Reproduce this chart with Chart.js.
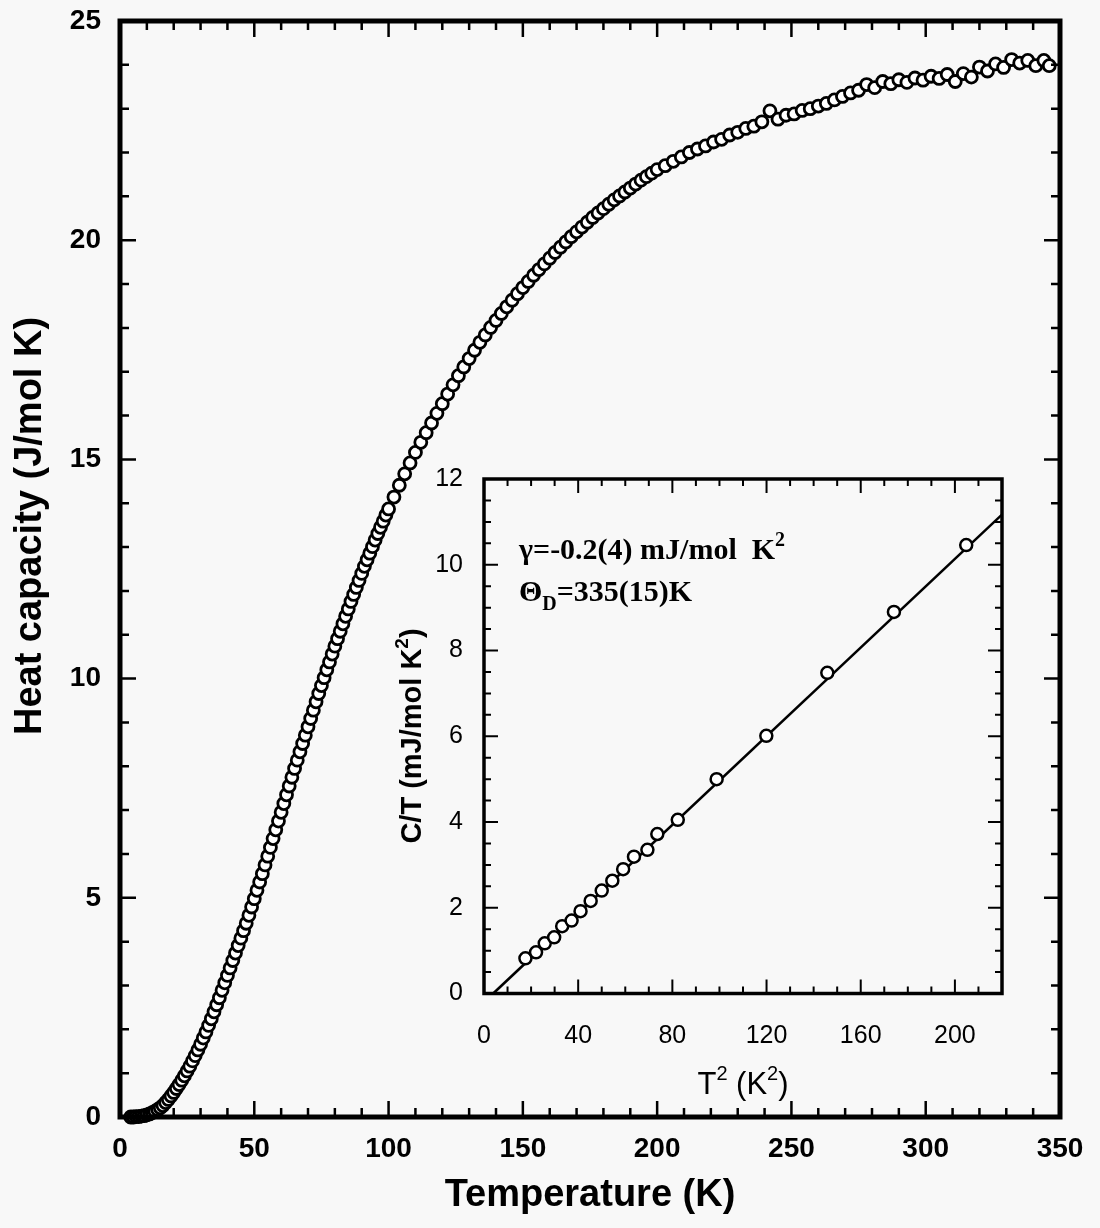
<!DOCTYPE html>
<html>
<head>
<meta charset="utf-8">
<script src="https://cdn.jsdelivr.net/npm/chart.js@4.4.1/dist/chart.umd.min.js"></script>
<style>
  body { margin: 0; background: #f8f8f8; }
  #wrap { position: relative; width: 1100px; height: 1228px; }
  #main { position: absolute; left: 0; top: 0; }
  #inset { position: absolute; left: 380px; top: 440px; }
</style>
</head>
<body>
<div id="wrap">
  <canvas id="main" width="1100" height="1228"></canvas>
  <canvas id="inset" width="660" height="670"></canvas>
</div>
<script>
/* Main plot: heat capacity vs temperature */
const temps = [
  4,5,6,7,8,9,10,11,12,13,14,15,16,17,18,19,20,21,22,23,
  24,25,26,27,28,29,30,31,32,33,34,35,36,37,38,39,40,41,42,43,
  44,45,46,47,48,49,50,51,52,53,54,55,56,57,58,59,60,61,62,63,
  64,65,66,67,68,69,70,71,72,73,74,75,76,77,78,79,80,81,82,83,
  84,85,86,87,88,89,90,91,92,93,94,95,96,97,98,99,100,
  102,104,106,108,110,112,114,116,118,120,122,124,126,128,130,132,134,136,138,140,
  142,144,146,148,150,152,154,156,158,160,162,164,166,168,170,172,174,176,178,180,
  182,184,186,188,190,192,194,196,198,200,
  203,206,209,212,215,218,221,224,227,230,233,236,239,242,245,248,251,254,257,260,
  263,266,269,272,275,278,281,284,287,290,293,296,299,302,305,308,311,314,317,320,
  323,326,329,332,335,338,341,344,346
];
const heatCap = [
  0.00,0.00,0.01,0.01,0.02,0.03,0.05,0.07,0.10,0.13,0.17,0.21,0.26,0.33,0.40,0.48,0.56,0.65,0.74,0.84,
  0.94,1.05,1.16,1.28,1.40,1.53,1.66,1.80,1.94,2.09,2.24,2.40,2.56,2.72,2.89,3.06,3.23,3.40,3.57,3.74,
  3.91,4.08,4.25,4.42,4.60,4.79,4.98,5.17,5.36,5.55,5.75,5.95,6.15,6.35,6.55,6.75,6.95,7.15,7.35,7.55,
  7.75,7.95,8.14,8.33,8.52,8.71,8.90,9.09,9.28,9.47,9.66,9.84,10.02,10.20,10.38,10.56,10.74,10.91,11.08,11.25,
  11.42,11.59,11.76,11.92,12.08,12.24,12.40,12.56,12.71,12.86,13.01,13.16,13.31,13.45,13.59,13.73,13.87,
  14.14,14.41,14.67,14.92,15.16,15.39,15.61,15.83,16.05,16.27,16.49,16.70,16.91,17.11,17.30,17.49,17.67,17.84,18.01,18.17,
  18.33,18.48,18.63,18.78,18.92,19.06,19.20,19.33,19.46,19.59,19.72,19.84,19.96,20.08,20.19,20.30,20.41,20.52,20.62,20.72,
  20.82,20.92,21.01,21.10,21.19,21.28,21.37,21.45,21.53,21.61,
  21.70,21.80,21.90,22.00,22.08,22.15,22.24,22.30,22.40,22.46,22.55,22.60,22.70,22.95,22.76,22.85,22.88,22.96,23.00,23.06,
  23.12,23.20,23.28,23.36,23.42,23.55,23.48,23.62,23.57,23.66,23.60,23.70,23.65,23.74,23.69,23.78,23.62,23.80,23.72,23.95,
  23.86,24.02,23.94,24.12,24.04,24.10,23.98,24.10,23.98
];

/* Inset: C/T vs T^2 and the linear fit */
const tSquared = [17.6,22.1,25.8,29.8,33.2,37.2,41.0,45.3,50.0,54.5,59.1,63.7,69.4,73.6,82.3,98.8,119.9,145.8,174.1,204.8];
const cOverT = [0.82,0.96,1.17,1.31,1.57,1.70,1.92,2.16,2.40,2.63,2.90,3.19,3.35,3.72,4.05,5.00,6.01,7.48,8.90,10.46];
const fitX = [3.9, 220];
const fitY = [0, 11.17];

const SANS = 'Liberation Sans, Arial, sans-serif';
const SERIF = 'Liberation Serif, Times New Roman, serif';

/* Frame with inward ticks on all four sides */
const framePlugin = {
    id: 'frame',
    afterDraw(chart, args, o) {
        const {ctx, chartArea: a, scales} = chart;
        const xs = scales.x, ys = scales.y;
        ctx.save();
        ctx.strokeStyle = '#000';
        ctx.lineWidth = o.tickWidth;
        ctx.beginPath();
        for (let v = xs.min; v <= xs.max + 1e-6; v += o.xMinor) {
            const px = xs.getPixelForValue(v);
            const len = Math.abs(v / o.xMajor - Math.round(v / o.xMajor)) < 1e-6 ? o.major : o.minor;
            ctx.moveTo(px, a.bottom); ctx.lineTo(px, a.bottom - len);
            ctx.moveTo(px, a.top); ctx.lineTo(px, a.top + len);
        }
        for (let v = ys.min; v <= ys.max + 1e-6; v += o.yMinor) {
            const py = ys.getPixelForValue(v);
            const len = Math.abs(v / o.yMajor - Math.round(v / o.yMajor)) < 1e-6 ? o.major : o.minor;
            ctx.moveTo(a.left, py); ctx.lineTo(a.left + len, py);
            ctx.moveTo(a.right, py); ctx.lineTo(a.right - len, py);
        }
        ctx.stroke();
        ctx.lineWidth = o.border;
        ctx.strokeRect(a.left, a.top, a.right - a.left, a.bottom - a.top);
        ctx.restore();
    }
};

/* Writes text made of pieces with their own font and vertical shift */
function richText(ctx, parts, x, y) {
    let w = 0;
    parts.forEach(p => { ctx.font = p[1]; w += ctx.measureText(p[0]).width; });
    let cx = x - w / 2;
    parts.forEach(p => {
        ctx.font = p[1];
        ctx.fillText(p[0], cx, y + (p[2] || 0));
        cx += ctx.measureText(p[0]).width;
    });
}

function textWidth(ctx, parts) {
    let w = 0;
    parts.forEach(p => { ctx.font = p[1]; w += ctx.measureText(p[0]).width; });
    return w;
}

const mainText = {
    id: 'mainText',
    afterDraw(chart) {
        const ctx = chart.ctx;
        ctx.save();
        ctx.fillStyle = '#000';
        ctx.textBaseline = 'middle';
        ctx.textAlign = 'left';
        richText(ctx, [['Temperature (K)', 'bold 38px ' + SANS]], 590, 1196);
        ctx.translate(31, 526);
        ctx.rotate(-Math.PI / 2);
        richText(ctx, [['Heat capacity (J/mol K)', 'bold 38px ' + SANS]], 0, 0);
        ctx.restore();
    }
};

const insetText = {
    id: 'insetText',
    afterDraw(chart) {
        const ctx = chart.ctx;
        const ox = 380, oy = 440;   // canvas offset on the page
        ctx.save();
        ctx.fillStyle = '#000';
        ctx.textAlign = 'left';
        ctx.textBaseline = 'middle';
        richText(ctx, [
            ['T', '31px ' + SANS], ['2', '20px ' + SANS, -11],
            [' (K', '31px ' + SANS], ['2', '20px ' + SANS, -11], [')', '31px ' + SANS]
        ], 743 - ox, 1085 - oy);
        ctx.save();
        ctx.translate(413 - ox, 736 - oy);
        ctx.rotate(-Math.PI / 2);
        richText(ctx, [
            ['C/T (mJ/mol K', 'bold 29px ' + SANS], ['2', 'bold 19px ' + SANS, -10],
            [')', 'bold 29px ' + SANS]
        ], 0, 0);
        ctx.restore();
        ctx.textBaseline = 'alphabetic';
        const big = 'bold 30px ' + SERIF, small = 'bold 20px ' + SERIF;
        ctx.translate(519 - ox, 559 - oy);
        let parts = [['\u03b3=-0.2(4) mJ/mol  K', big], ['2', small, -13]];
        richText(ctx, parts, textWidth(ctx, parts) / 2, 0);
        parts = [['\u0398', big], ['D', small, 9], ['=335(15)K', big]];
        richText(ctx, parts, textWidth(ctx, parts) / 2, 42);
        ctx.restore();
    }
};

function axis(min, max, step, size, weight, pad, isX, fit) {
    return {
        type: 'linear', min: min, max: max,
        grid: { display: false, drawTicks: false },
        border: { display: false },
        ticks: {
            stepSize: step, includeBounds: false, padding: pad, color: '#000',
            font: { family: SANS, size: size, weight: weight }
        },
        afterFit: s => {
            if (isX) { s.height = fit; } else { s.width = fit; }
            s.paddingTop = 0; s.paddingBottom = 0;
        }
    };
}

new Chart(document.getElementById('main'), {
    type: 'scatter',
    data: {
        datasets: [{
            data: temps.map((t, i) => ({ x: t, y: heatCap[i] })),
            pointRadius: 6,
            pointBorderWidth: 2.8,
            pointBackgroundColor: '#fff',
            pointBorderColor: '#000',
            clip: false
        }]
    },
    options: {
        responsive: false, animation: false, events: [],
        layout: { padding: { top: 21, right: 40, left: 0, bottom: 0 } },
        plugins: {
            legend: { display: false }, tooltip: { enabled: false },
            frame: { tickWidth: 2.5, border: 5, major: 16, minor: 9, xMajor: 50, xMinor: 10, yMajor: 5, yMinor: 1 }
        },
        scales: {
            x: axis(0, 350, 50, 28, 'bold', 15, true, 111),
            y: axis(0, 25, 5, 28, 'bold', 19, false, 120)
        }
    },
    plugins: [framePlugin, mainText]
});

new Chart(document.getElementById('inset'), {
    type: 'scatter',
    data: {
        datasets: [{
            data: tSquared.map((t, i) => ({ x: t, y: cOverT[i] })),
            pointRadius: 6,
            pointBorderWidth: 2.5,
            pointBackgroundColor: '#fff',
            pointBorderColor: '#000'
        }, {
            data: fitX.map((t, i) => ({ x: t, y: fitY[i] })),
            showLine: true,
            borderColor: '#000',
            borderWidth: 2.6,
            pointRadius: 0
        }]
    },
    options: {
        responsive: false, animation: false, events: [],
        layout: { padding: { top: 39, right: 38, left: 0, bottom: 0 } },
        plugins: {
            legend: { display: false }, tooltip: { enabled: false },
            frame: { tickWidth: 2, border: 3.5, major: 14, minor: 7, xMajor: 40, xMinor: 10, yMajor: 2, yMinor: 0.5 }
        },
        scales: {
            x: axis(0, 220, 40, 25, 'normal', 28, true, 116.5),
            y: axis(0, 12, 2, 25, 'normal', 21, false, 104)
        }
    },
    plugins: [framePlugin, insetText]
});
</script>
</body>
</html>
